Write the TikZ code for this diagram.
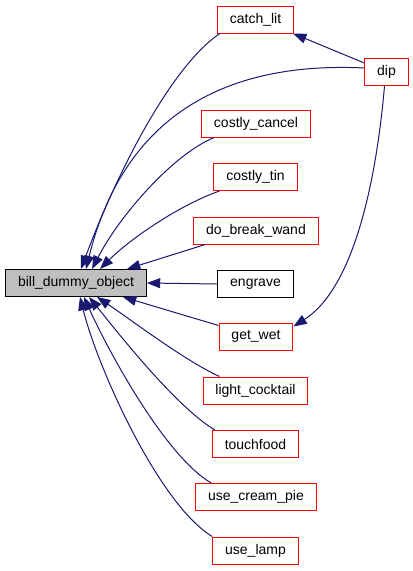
\documentclass[tikz,border=0pt]{standalone}
\usepackage{fontspec}
\setmainfont{Liberation Sans}
\usetikzlibrary{arrows.meta}
\definecolor{edgeblue}{HTML}{191970}
\definecolor{boxgrey}{HTML}{BFBFBF}
\begin{document}
\begin{tikzpicture}[x=0.75pt,y=-0.75pt,
  fn/.style={draw=red,line width=0.75pt,fill=white,inner xsep=9.3pt,inner ysep=0pt,
    minimum height=20.25pt,font=\fontsize{10.5}{12}\selectfont},
  fnblack/.style={fn,draw=black},
  fnmain/.style={fn,draw=black,fill=boxgrey},
  call/.style={edgeblue,line width=0.75pt,-{Triangle[length=10pt,width=7.5pt]}}]
\useasboundingbox (0,0) rectangle (413,571);

\node[fnmain] (bill) at (76,283) {bill\_dummy\_object};

\node[fn] (catchlit) at (255.5,19.5) {catch\_lit};
\node[fn] (dip) at (386.5,72) {dip};
\node[fn] (cancel) at (256,123.5) {costly\_cancel};
\node[fn] (tin) at (255.5,177) {costly\_tin};
\node[fn] (wand) at (256,230.5) {do\_break\_wand};
\node[fnblack] (engrave) at (255.5,284) {engrave};
\node[fn] (getwet) at (256,336.5) {get\_wet};
\node[fn] (cocktail) at (255.5,390.5) {light\_cocktail};
\node[fn] (touch) at (255.5,444) {touchfood};
\node[fn] (pie) at (256,497) {use\_cream\_pie};
\node[fn] (lamp) at (255.5,550.5) {use\_lamp};

\draw[call] ([shift={(3,0)}]catchlit.south west) .. controls +(-48,32) and +(37,-99) .. ([shift={(5,0)}]bill.north);
\draw[call] ([shift={(0,-4)}]dip.west) .. controls +(-166,-8) and +(32,-129) .. ([shift={(10,0)}]bill.north);
\draw[call] ([shift={(13,0)}]cancel.south west) .. controls +(-41,17) and +(28,-54) .. ([shift={(16,0)}]bill.north);
\draw[call] ([shift={(6,0)}]tin.south west) .. controls +(-40,14) and +(30,-30) .. ([shift={(24,0)}]bill.north);
\draw[call] ([shift={(12,0)}]wand.south west) -- ([shift={(51,0)}]bill.north);
\draw[call] (engrave.west) -- (bill.east);
\draw[call] ([shift={(0,3)}]getwet.north west) -- ([shift={(47,0)}]bill.south);
\draw[call] ([shift={(17,0)}]cocktail.north west) .. controls +(-35,-16) and +(33,22) .. ([shift={(21,0)}]bill.south);
\draw[call] ([shift={(3,0)}]touch.north west) .. controls +(-40,-24) and +(26,32) .. ([shift={(13,0)}]bill.south);
\draw[call] ([shift={(16,0)}]pie.north west) .. controls +(-48,-28) and +(21,47) .. ([shift={(8,0)}]bill.south);
\draw[call] (lamp.north west) .. controls +(-53,-32) and +(18,72) .. ([shift={(4,0)}]bill.south);

\draw[call] ([shift={(0,5)}]dip.north west) -- ([shift={(-1,0)}]catchlit.south east);
\draw[call] ([shift={(-2,0)}]dip.south) .. controls +(-9,104) and +(58,-37) .. ([shift={(0,4)}]getwet.north east);

\end{tikzpicture}
\end{document}
